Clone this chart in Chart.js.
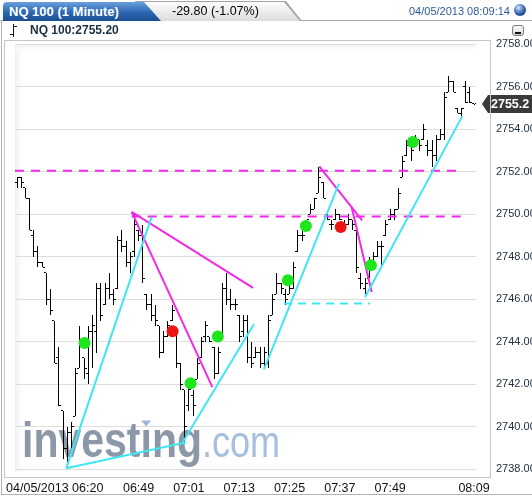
<!DOCTYPE html>
<html>
<head>
<meta charset="utf-8">
<script src="https://cdn.jsdelivr.net/npm/chart.js@4.4.1/dist/chart.umd.min.js"></script>
<style>
  body { margin: 0; width: 532px; height: 498px; overflow: hidden; background: #fff; position: relative;
         font-family: "Liberation Sans", Arial, sans-serif; }
  #c { position: absolute; left: 0; top: 0; }
  .abs { position: absolute; }
  #tab1 { left: 3px; top: 2px; width: 158px; height: 19px; box-sizing: border-box; padding-left: 6px;
          background: linear-gradient(#6aa0dd, #2b66b0 55%, #1b4f95); color: #fff; font-weight: bold;
          font-size: 13px; line-height: 19px; clip-path: polygon(0 0, 141px 0, 158px 19px, 0 19px);
          border-top-left-radius: 4px; }
  #tab2o { left: 135px; top: 1px; width: 167px; height: 20px; background: #a4a4a4;
           clip-path: polygon(0 0, 151px 0, 167px 20px, 0 20px); }
  #tab2i { left: 135px; top: 2px; width: 165px; height: 19px; background: linear-gradient(#fdfdfd, #dcdcdc);
           clip-path: polygon(0 0, 149px 0, 165px 19px, 0 19px); }
  #chg { left: 172px; top: 4px; font-size: 12.5px; color: #000; }
  #stamp { left: 409px; top: 5px; font-size: 11px; color: #2b5c9e; }
  #ball { left: 514px; top: 4px; width: 12px; height: 12px; border-radius: 50%;
          background: radial-gradient(circle at 38% 32%, #e6eefa 0, #6c95d3 30%, #1f4f9c 65%, #0c2a63 100%); }
  #sym { left: 30px; top: 23px; font-size: 12px; font-weight: bold; color: #1b2e42; }
  #mini { left: 512px; top: 25px; width: 12px; height: 11px; box-sizing: border-box; border: 1px solid #7b7b7b;
          border-radius: 3px; background: linear-gradient(#fff, #d6d6d6); }
  #mini i { position: absolute; left: 2px; bottom: 1px; width: 6px; height: 2px; background: #111; }
</style>
</head>
<body>
<canvas id="c" width="532" height="498"></canvas>

<div class="abs" style="left:0;top:20px;width:532px;height:1px;background:#a9a9a9"></div>
<div class="abs" id="tab2o"></div>
<div class="abs" id="tab2i"></div>
<div class="abs" id="chg">-29.80 (-1.07%)</div>
<div class="abs" id="tab1">NQ 100 (1 Minute)</div>
<div class="abs" id="stamp">04/05/2013 08:09:14</div>
<div class="abs" id="ball"></div>

<div class="abs" style="left:13px;top:24px;width:1px;height:13px;background:#111"></div>
<div class="abs" style="left:10px;top:34px;width:3px;height:1px;background:#111"></div>
<div class="abs" style="left:14px;top:26px;width:3px;height:1px;background:#111"></div>
<div class="abs" id="sym">NQ 100:2755.20</div>
<div class="abs" id="mini"><i></i></div>

<div class="abs" style="left:1px;top:20px;width:1px;height:475px;background:#b3b3b3"></div>
<div class="abs" style="left:4px;top:40px;width:487px;height:438px;box-sizing:border-box;border:1px solid #c6c6c6"></div>
<div class="abs" style="left:1px;top:494px;width:531px;height:1px;background:#b3b3b3"></div>

<script>
// one-minute bars, index 0 = first bar on the left
const highs = [
  2751.75, 2751.75, 2751.25, 2750.75, 2749.25, 2748.5, 2747.75, 2747.25, 2746.5, 2745.0,
  2743.75, 2740.75, 2740.0, 2740.25, 2742.75, 2744.75, 2743.25, 2744.75, 2745.25, 2746.75,
  2746.75, 2746.75, 2747.25, 2746.5, 2749.0, 2749.25, 2748.75, 2748.25, 2750.0, 2749.25,
  2749.5, 2746.25, 2746.25, 2745.75, 2744.75, 2744.5, 2745.0, 2745.75, 2744.5, 2743.0,
  2741.75, 2742.0, 2741.75, 2743.25, 2744.25, 2745.0, 2744.25, 2743.75, 2743.75, 2746.75,
  2747.25, 2746.5, 2746.0, 2745.25, 2745.25, 2745.25, 2744.0, 2743.75, 2743.75, 2743.75,
  2745.25, 2746.25, 2747.25, 2746.75, 2746.5, 2746.75, 2747.75, 2749.25, 2749.25, 2749.75,
  2750.5, 2750.75, 2752.25, 2751.5, 2750.0, 2749.75, 2750.25, 2750.0, 2749.75, 2750.0,
  2749.75, 2749.25, 2747.25, 2747.0, 2748.0, 2748.25, 2748.75, 2748.75, 2749.75, 2750.25,
  2750.25, 2751.25, 2752.75, 2753.5, 2753.5, 2753.75, 2753.5, 2754.25, 2753.5, 2753.5,
  2753.75, 2754.0, 2755.75, 2756.5, 2756.25, 2755.0, 2755.0, 2756.25, 2756.0, 2755.2
];
const lows = [
  2751.25, 2751.25, 2750.75, 2749.25, 2748.0, 2747.5, 2747.5, 2745.75, 2745.25, 2743.0,
  2741.0, 2738.5, 2738.0, 2739.0, 2740.5, 2742.75, 2742.25, 2742.0, 2742.75, 2743.5,
  2745.0, 2745.75, 2746.0, 2745.75, 2746.5, 2748.25, 2747.5, 2747.25, 2748.0, 2748.75,
  2746.75, 2745.5, 2745.0, 2744.75, 2743.25, 2743.5, 2744.25, 2745.0, 2742.75, 2741.75,
  2739.25, 2740.75, 2740.5, 2742.25, 2743.25, 2744.0, 2744.0, 2742.25, 2742.5, 2744.25,
  2745.75, 2745.5, 2745.5, 2744.0, 2744.25, 2743.0, 2742.75, 2743.25, 2742.75, 2742.75,
  2742.75, 2745.25, 2746.25, 2746.25, 2745.75, 2746.25, 2746.5, 2748.25, 2748.75, 2749.25,
  2750.0, 2750.25, 2751.0, 2750.75, 2749.75, 2749.25, 2749.75, 2749.75, 2749.25, 2749.5,
  2749.25, 2747.25, 2746.5, 2746.25, 2747.0, 2747.75, 2748.0, 2747.5, 2749.0, 2749.75,
  2749.75, 2750.25, 2751.75, 2752.75, 2752.5, 2753.25, 2753.0, 2753.5, 2752.75, 2752.25,
  2752.5, 2753.5, 2753.5, 2755.75, 2755.75, 2754.75, 2754.5, 2755.25, 2755.25, 2755.2
];
const opens = [
  2751.5, 2751.75, 2751.25, 2750.75, 2749.0, 2748.25, 2747.75, 2747.25, 2746.0, 2745.0,
  2743.25, 2740.75, 2739.0, 2739.75, 2740.5, 2742.75, 2743.25, 2742.5, 2744.5, 2744.5,
  2746.5, 2745.75, 2746.5, 2746.25, 2746.5, 2748.75, 2748.5, 2747.75, 2748.25, 2749.25,
  2749.0, 2746.25, 2745.75, 2745.25, 2744.75, 2743.5, 2744.25, 2745.0, 2744.5, 2743.0,
  2741.75, 2741.0, 2741.5, 2742.25, 2743.25, 2744.25, 2744.25, 2743.75, 2742.5, 2744.25,
  2746.5, 2746.0, 2745.75, 2745.25, 2744.5, 2745.0, 2743.25, 2743.25, 2743.5, 2743.0,
  2743.0, 2745.25, 2746.25, 2746.75, 2746.25, 2746.25, 2746.5, 2748.25, 2749.0, 2749.25,
  2750.0, 2750.25, 2751.0, 2751.5, 2750.0, 2749.5, 2749.75, 2750.0, 2749.5, 2749.5,
  2749.75, 2749.25, 2747.0, 2746.5, 2747.0, 2747.75, 2748.0, 2748.5, 2749.0, 2749.75,
  2750.0, 2750.25, 2751.75, 2752.75, 2753.25, 2753.25, 2753.5, 2753.5, 2753.25, 2753.0,
  2752.75, 2753.5, 2753.75, 2755.75, 2756.25, 2755.0, 2754.75, 2756.0, 2755.75, 2755.2
];
const closes = [
  2751.75, 2751.5, 2750.75, 2749.25, 2748.25, 2747.75, 2747.5, 2746.0, 2745.5, 2743.0,
  2741.0, 2739.0, 2739.75, 2740.0, 2742.5, 2744.0, 2742.75, 2744.5, 2744.75, 2746.5,
  2745.25, 2746.5, 2746.25, 2746.0, 2748.75, 2748.5, 2747.75, 2748.0, 2749.5, 2749.0,
  2747.0, 2745.75, 2745.25, 2745.0, 2743.5, 2744.25, 2744.75, 2745.5, 2743.0, 2742.0,
  2740.0, 2741.75, 2741.0, 2743.0, 2744.0, 2744.75, 2744.0, 2742.5, 2743.5, 2746.5,
  2746.0, 2745.75, 2745.75, 2744.25, 2745.0, 2743.25, 2743.0, 2743.5, 2743.0, 2743.5,
  2745.0, 2746.0, 2746.75, 2746.5, 2746.0, 2746.5, 2747.5, 2749.0, 2749.0, 2749.75,
  2750.25, 2750.75, 2751.75, 2750.75, 2749.75, 2749.5, 2750.0, 2749.75, 2749.5, 2749.75,
  2749.5, 2747.5, 2746.75, 2746.75, 2747.75, 2748.0, 2748.5, 2748.5, 2749.5, 2750.0,
  2750.25, 2751.0, 2752.5, 2753.25, 2753.0, 2753.5, 2753.25, 2754.0, 2753.0, 2752.75,
  2753.5, 2753.75, 2755.5, 2756.25, 2755.75, 2754.75, 2755.0, 2755.25, 2755.25, 2755.2
];

// time axis labels and the bars they sit under
const tickBars = [9, 29, 41, 53, 65, 77, 89, 109];
const tickTimes = ['04/05/2013 06:20', '06:49', '07:01', '07:13', '07:25', '07:37', '07:49', '08:09'];
const priceTicks = [2738, 2740, 2742, 2744, 2746, 2748, 2750, 2752, 2754, 2756, 2758];
const lastPrice = 2755.2;

// drawn studies: [bar, price]
const greenMarks = [[16.1, 2743.95], [41.4, 2742.05], [47.9, 2744.25], [64.6, 2746.9], [68.9, 2749.45], [84.4, 2747.6], [94.4, 2753.4]];
const redMarks = [[37.1, 2744.5], [77.2, 2749.4]];
const cyanTrends = [
  [[11.76, 2738.06], [32.1, 2749.88]],
  [[11.76, 2738.06], [40.2, 2739.27]],
  [[39.6, 2739.3], [56.5, 2744.83]],
  [[58.9, 2742.71], [76.8, 2751.44]],
  [[83.0, 2746.1], [106.2, 2754.62]]
];
const magentaTrends = [
  [[27.35, 2750.12], [56.3, 2746.54]],
  [[27.35, 2750.12], [46.6, 2741.87]],
  [[72.1, 2752.26], [82.3, 2749.72]],
  [[79.8, 2750.35], [84.6, 2746.35]]
];
// [fromBar, toBar, price]
const magentaLevels = [[-0.48, 105.9, 2752.05], [27.35, 105.9, 2749.9]];
const cyanLevels = [[63.7, 84.2, 2745.8]];

const CYAN = '#3fe6f4', MAGENTA = '#f22ae6';

const pts = arr => arr.map(p => ({ x: p[0], y: p[1] }));
const idx = highs.map((h, i) => i);

const datasets = [
  { type: 'bar', data: idx.map(i => ({ x: i, y: [lows[i], highs[i]] })), backgroundColor: '#000',
    barThickness: 1, inflateAmount: 0, borderWidth: 0, order: 10, snap: 'bar' },
  { type: 'line', data: idx.map(i => ({ x: i, y: opens[i] })), showLine: false, pointStyle: 'line',
    pointRadius: 1, pointBorderWidth: 1, pointBorderColor: '#000', order: 9, snap: 'open' },
  { type: 'line', data: idx.map(i => ({ x: i, y: closes[i] })), showLine: false, pointStyle: 'line',
    pointRadius: 1, pointBorderWidth: 1, pointBorderColor: '#000', order: 9, snap: 'close' }
];
magentaLevels.forEach(l => datasets.push({ type: 'line', data: [{ x: l[0], y: l[2] }, { x: l[1], y: l[2] }],
  borderColor: MAGENTA, borderWidth: 2, borderDash: [9, 7], pointRadius: 0, order: 6 }));
cyanLevels.forEach(l => datasets.push({ type: 'line', data: [{ x: l[0], y: l[2] }, { x: l[1], y: l[2] }],
  borderColor: CYAN, borderWidth: 2, borderDash: [8, 6], pointRadius: 0, order: 6 }));
cyanTrends.forEach(t => datasets.push({ type: 'line', data: pts(t), borderColor: CYAN, borderWidth: 2,
  pointRadius: 0, order: 5 }));
magentaTrends.forEach(t => datasets.push({ type: 'line', data: pts(t), borderColor: MAGENTA, borderWidth: 2,
  pointRadius: 0, order: 5 }));
datasets.push({ type: 'line', data: pts(greenMarks), showLine: false, pointRadius: 6, pointBorderWidth: 0,
  pointBackgroundColor: '#1de61d', order: 1 });
datasets.push({ type: 'line', data: pts(redMarks), showLine: false, pointRadius: 6, pointBorderWidth: 0,
  pointBackgroundColor: '#ee1414', order: 1 });

// keep the 1px bars and their ticks on whole pixels
const snapPlugin = {
  id: 'snap',
  afterDatasetsUpdate(chart) {
    const xs = chart.scales.x;
    chart.data.datasets.forEach((ds, di) => {
      if (!ds.snap) return;
      chart.getDatasetMeta(di).data.forEach((el, i) => {
        const col = Math.floor(xs.getPixelForValue(i));
        if (ds.snap === 'bar') {
          const t = Math.round(Math.min(el.y, el.base)), b = Math.round(Math.max(el.y, el.base));
          el.x = col + 0.5; el.y = t; el.base = Math.max(b, t + 1);
        } else {
          el.x = ds.snap === 'open' ? col - 1 : col + 2;
          el.y = Math.floor(el.y) + 0.5;
        }
      });
    });
  }
};

const backdrop = {
  id: 'backdrop',
  beforeDraw(chart) {
    const { ctx, chartArea: a } = chart;
    ctx.save();
    ctx.fillStyle = '#fff';
    ctx.fillRect(a.left, a.top, a.width, a.height);
    let g = ctx.createLinearGradient(a.left, 0, a.left + 10, 0);
    g.addColorStop(0, '#efefef'); g.addColorStop(1, 'rgba(255,255,255,0)');
    ctx.fillStyle = g; ctx.fillRect(a.left, a.top, 10, a.height);
    g = ctx.createLinearGradient(0, a.top, 0, a.top + 9);
    g.addColorStop(0, '#efefef'); g.addColorStop(1, 'rgba(255,255,255,0)');
    ctx.fillStyle = g; ctx.fillRect(a.left, a.top, a.width, 9);
    ctx.restore();
  },
  beforeDatasetsDraw(chart) {
    const { ctx, chartArea: a } = chart;
    const x0 = a.left + 7, base = a.bottom - 14, sx = 0.82;
    ctx.save();
    ctx.font = 'bold 50px "Liberation Sans", Arial, sans-serif';
    const word = 'investıng';
    const w = ctx.measureText(word).width;
    const wPre = ctx.measureText('invest').width, wI = ctx.measureText('ı').width;
    ctx.translate(x0, base);
    ctx.scale(sx, 1);
    ctx.fillStyle = '#8c98a7';
    ctx.fillText(word, 0, 0);
    ctx.font = '44px "Liberation Sans", Arial, sans-serif';
    ctx.fillStyle = '#a6bfdc';
    ctx.fillText('.com', w, 0);
    ctx.restore();
    const cx = x0 + sx * (wPre + wI / 2);
    ctx.save();
    ctx.fillStyle = '#9bb7d9';
    ctx.beginPath();
    ctx.moveTo(cx - 5, base - 37); ctx.lineTo(cx + 5, base - 37); ctx.lineTo(cx, base - 31);
    ctx.closePath(); ctx.fill();
    ctx.restore();
  },
  afterDraw(chart) {
    const { ctx, chartArea: a } = chart;
    const y = Math.round(chart.scales.y.getPixelForValue(lastPrice));
    const l = a.right + 6;
    ctx.save();
    ctx.fillStyle = '#3a3a3a';
    ctx.beginPath();
    ctx.moveTo(l, y); ctx.lineTo(l + 6, y - 9); ctx.lineTo(532, y - 9); ctx.lineTo(532, y + 9);
    ctx.lineTo(l + 6, y + 9); ctx.closePath(); ctx.fill();
    ctx.fillStyle = '#fff';
    ctx.font = 'bold 12.5px "Liberation Sans", Arial, sans-serif';
    ctx.textBaseline = 'middle';
    ctx.fillText(lastPrice.toFixed(1), l + 9, y + 1);
    ctx.restore();
  }
};

new Chart(document.getElementById('c'), {
  type: 'bar',
  data: { datasets },
  options: {
    responsive: false,
    animation: false,
    devicePixelRatio: 1,
    layout: { padding: { left: 15, top: 44, right: 0, bottom: 0 } },
    plugins: { legend: { display: false }, tooltip: { enabled: false } },
    scales: {
      x: {
        type: 'linear', offset: false, min: -0.477, max: 109.47,
        grid: { display: false, offset: false },
        border: { display: false },
        ticks: {
          autoSkip: false, maxRotation: 0, padding: 2, color: '#111',
          font: { family: '"Liberation Sans", Arial, sans-serif', size: 12.5 },
          callback: v => tickTimes[tickBars.indexOf(v)]
        },
        afterBuildTicks: s => { s.ticks = tickBars.map(v => ({ value: v })); },
        afterFit: s => { s.height = 23; }
      },
      y: {
        position: 'right', min: 2737.907, max: 2758.014,
        grid: { color: '#dedede', drawTicks: false },
        border: { display: false },
        ticks: {
          padding: 20, color: '#22313f',
          font: { family: '"Liberation Sans Narrow", "Liberation Sans", Arial, sans-serif', size: 11 },
          callback: v => v.toFixed(2)
        },
        afterBuildTicks: s => { s.ticks = priceTicks.map(v => ({ value: v })); },
        afterFit: s => { s.width = 56; }
      }
    }
  },
  plugins: [snapPlugin, backdrop]
});
</script>
</body>
</html>
